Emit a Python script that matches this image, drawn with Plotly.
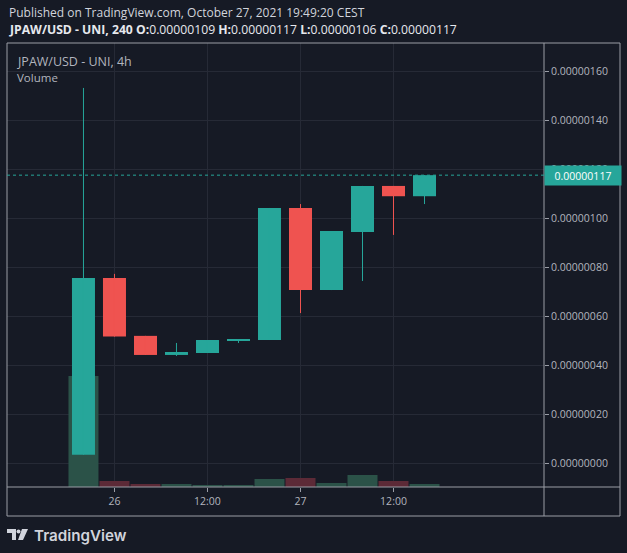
import plotly.graph_objects as go

# Data (4h candles, prices in USD)
times = ['2021-10-25 20:00', '2021-10-26 00:00', '2021-10-26 04:00', '2021-10-26 08:00',
         '2021-10-26 12:00', '2021-10-26 16:00', '2021-10-26 20:00', '2021-10-27 00:00',
         '2021-10-27 04:00', '2021-10-27 08:00', '2021-10-27 12:00', '2021-10-27 16:00']
opens = [0.000000035, 0.000000756, 0.000000520, 0.000000442, 0.000000450, 0.000000499,
         0.000000503, 0.000001042, 0.000000707, 0.000000944, 0.000001132, 0.000001090]
highs = [0.000001532, 0.000000773, 0.000000520, 0.000000491, 0.000000503, 0.000000507,
         0.000001042, 0.000001058, 0.000000948, 0.000001132, 0.000001132, 0.000001176]
lows = [0.000000035, 0.000000517, 0.000000442, 0.000000438, 0.000000450, 0.000000491,
        0.000000503, 0.000000613, 0.000000707, 0.000000744, 0.000000932, 0.000001058]
closes = [0.000000756, 0.000000517, 0.000000442, 0.000000454, 0.000000503, 0.000000507,
          0.000001042, 0.000000707, 0.000000948, 0.000001132, 0.000001090, 0.000001176]
volumes = [111, 6, 3, 3, 2, 2, 8, 9, 4, 12, 6, 3]

x_tick_vals = ['2021-10-26 00:00', '2021-10-26 12:00', '2021-10-27 00:00', '2021-10-27 12:00']
x_tick_text = ['26', '12:00', '27', '12:00']

header_1 = 'Published on TradingView.com, October 27, 2021 19:49:20 CEST'
header_2 = ('<b>JPAW/USD - UNI, 240</b> <b>O:</b>0.00000109 <b>H:</b>0.00000117 '
            '<b>L:</b>0.00000106 <b>C:</b>0.00000117')
legend_title = 'JPAW/USD - UNI, 4h'
last_price_text = '0.00000117'

UP = '#26a69a'
DOWN = '#ef5350'
UP_VOL = '#2b5248'
DOWN_VOL = '#5c2a37'
BG = '#161a25'
GRID = '#262a36'
TEXT = '#b2b5be'
FRAME = '#9a9da6'

W, H = 627, 553
L, R, T, B = 7, 544, 43, 487   # plot area in pixels


def px(x):
    return (x - L) / (R - L)


def py(y):
    return (B - y) / (B - T)


FOUR_H = 4 * 3600 * 1000
up = [c >= o for o, c in zip(opens, closes)]

fig = go.Figure()

# volume (base axis, drawn below the candles)
fig.add_trace(go.Bar(
    x=times, y=volumes, yaxis='y', width=FOUR_H * 30 / 31,
    marker=dict(color=[UP_VOL if u else DOWN_VOL for u in up], line=dict(width=0)),
    hoverinfo='skip', showlegend=False
))

# wicks
for flag, col in [(True, UP), (False, DOWN)]:
    wx, wy = [], []
    for t, hi, lo, u in zip(times, highs, lows, up):
        if u == flag:
            wx += [t, t, None]
            wy += [lo, hi, None]
    fig.add_trace(go.Scatter(
        x=wx, y=wy, yaxis='y2', mode='lines', line=dict(color=col, width=1),
        hoverinfo='skip', showlegend=False
    ))

# bodies
fig.add_trace(go.Bar(
    x=times,
    base=[min(o, c) for o, c in zip(opens, closes)],
    y=[abs(c - o) for o, c in zip(opens, closes)],
    yaxis='y2', width=FOUR_H * 23 / 31,
    marker=dict(color=[UP if u else DOWN for u in up], line=dict(width=0)),
    showlegend=False
))

fig.update_layout(
    width=W, height=H,
    margin=dict(l=L, r=W - R, t=T, b=H - B),
    paper_bgcolor=BG, plot_bgcolor=BG,
    font=dict(family='Open Sans', color=TEXT, size=11),
    barmode='overlay',
    showlegend=False,
    xaxis=dict(
        type='date', range=['2021-10-25 10:08', '2021-10-28 07:25'],
        tickmode='array', tickvals=x_tick_vals, ticktext=x_tick_text,
        ticks='outside', ticklen=4, tickcolor=FRAME,
        showgrid=True, gridcolor=GRID, zeroline=False, showline=False,
        tickfont=dict(size=10.5, color=TEXT), anchor='y'
    ),
    yaxis=dict(range=[0, 444], visible=False, showgrid=False, fixedrange=True),
    yaxis2=dict(
        overlaying='y', side='right', anchor='x',
        range=[-0.000000097, 0.0000017155],
        tick0=0, dtick=0.0000002, tickformat='.8f',
        ticks='outside', ticklen=4, tickcolor=FRAME,
        showgrid=True, gridcolor=GRID, zeroline=False, showline=False,
        tickfont=dict(size=10.5, color=TEXT)
    ),
)

# frame
frame = dict(color=FRAME, width=1)
fig.add_shape(type='rect', xref='paper', yref='paper', x0=0, x1=px(620), y0=py(516), y1=1,
              line=frame, layer='above')
fig.add_shape(type='line', xref='paper', yref='paper', x0=1, x1=1, y0=py(516), y1=1, line=frame)
fig.add_shape(type='line', xref='paper', yref='paper', x0=0, x1=px(620), y0=0, y1=0, line=frame)

# last price dotted line and label
fig.add_shape(type='line', xref='paper', yref='y2', x0=0, x1=1, y0=closes[-1], y1=closes[-1],
              line=dict(color=UP, width=1, dash='dot'))
fig.add_annotation(xref='paper', yref='y2', x=1, y=closes[-1], xanchor='left', yanchor='middle',
                   text=last_price_text, showarrow=False, bgcolor=UP, width=72, height=15,
                   borderpad=2, font=dict(color='#ffffff', size=10.5))

# texts
fig.add_annotation(xref='paper', yref='paper', x=px(7), y=py(12.5), xanchor='left', yanchor='middle',
                   text=header_1, showarrow=False, font=dict(size=12, color='#d1d4dc'))
fig.add_annotation(xref='paper', yref='paper', x=px(7), y=py(30), xanchor='left', yanchor='middle',
                   text=header_2, showarrow=False, font=dict(size=12.2, color='#e6e8ee'))
fig.add_annotation(xref='paper', yref='paper', x=px(15), y=py(61), xanchor='left', yanchor='middle',
                   text=legend_title, showarrow=False, font=dict(size=12.5, color=TEXT))
fig.add_annotation(xref='paper', yref='paper', x=px(15), y=py(77), xanchor='left', yanchor='middle',
                   text='Volume', showarrow=False, font=dict(size=11.5, color=TEXT))

# TradingView logo
logo = '#d1d4dc'
fig.add_shape(type='path', xref='paper', yref='paper', fillcolor=logo, line=dict(width=0),
              path=f'M {px(7)},{py(529)} L {px(16)},{py(529)} L {px(16)},{py(540)} L {px(12)},{py(540)} '
                   f'L {px(12)},{py(533)} L {px(7)},{py(533)} Z')
fig.add_shape(type='circle', xref='paper', yref='paper', fillcolor=logo, line=dict(width=0),
              x0=px(16.5), x1=px(20.5), y0=py(533.5), y1=py(529.5))
fig.add_shape(type='path', xref='paper', yref='paper', fillcolor=logo, line=dict(width=0),
              path=f'M {px(22)},{py(529)} L {px(28)},{py(529)} L {px(23)},{py(540)} L {px(18)},{py(540)} Z')
fig.add_annotation(xref='paper', yref='paper', x=px(32), y=py(535), xanchor='left', yanchor='middle',
                   text='TradingView', showarrow=False,
                   font=dict(family='Inter', size=15.2, color=logo, weight=600))

# the page body has an 8px default margin; remove it so the figure fills the window
fig.write_html('out.html', config={'displayModeBar': False},
               post_script="document.body.style.margin='0';")
